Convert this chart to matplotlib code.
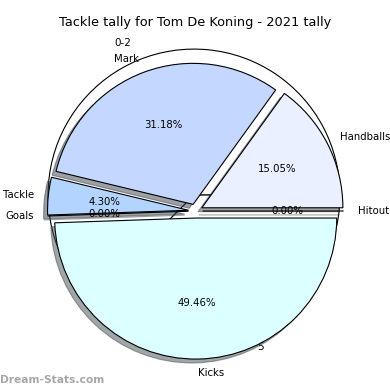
import matplotlib
matplotlib.use("Agg")
import matplotlib.pyplot as plt

# front pie: tally counts
labels = ["Handballs", "Mark", "Tackle", "Goals", "Kicks", "Hitout"]
counts = [14, 29, 4, 0, 46, 0]
colors = ["#eaf0ff", "#c4d8ff", "#b3d4ff", "#cce8ff", "#dcffff", "#e4f4ff"]

# back pie (mostly hidden behind the front one)
back_labels = ["0-2", "5"]
back_sizes = [5, 3]

fig = plt.figure(figsize=(3.9, 3.9), dpi=100)
ax = fig.add_axes([0.0495, 0.007, 0.904, 0.904])

back_wedges, back_texts = ax.pie(
    back_sizes,
    labels=back_labels,
    colors=["white", "white"],
    center=(-0.011, 0.113),
    radius=1.035,
    labeldistance=1.125,
    wedgeprops={"edgecolor": "black", "linewidth": 0.8},
    textprops={"fontsize": 7.5},
)
for w in back_wedges:
    w.set_zorder(0.2)
for t in back_texts:
    t.set_zorder(0.3)

wedges, texts, autotexts = ax.pie(
    counts,
    labels=labels,
    colors=colors,
    explode=[0.05] * len(counts),
    autopct="%.2f%%",
    shadow=True,
    wedgeprops={"edgecolor": "black", "linewidth": 0.8},
    textprops={"fontsize": 7.3},
)

ax.set_xlim(-1.25, 1.25)
ax.set_ylim(-1.25, 1.25)
ax.set_aspect("equal")
ax.set_title("Tackle tally for Tom De Koning - 2021 tally", fontsize=9.3)

fig.text(0.0, 0.025, "Dream-Stats.com", fontsize=7.7, fontweight="bold",
         color="#a8a8a8", ha="left", va="center")

fig.savefig("out.png", dpi=100)
